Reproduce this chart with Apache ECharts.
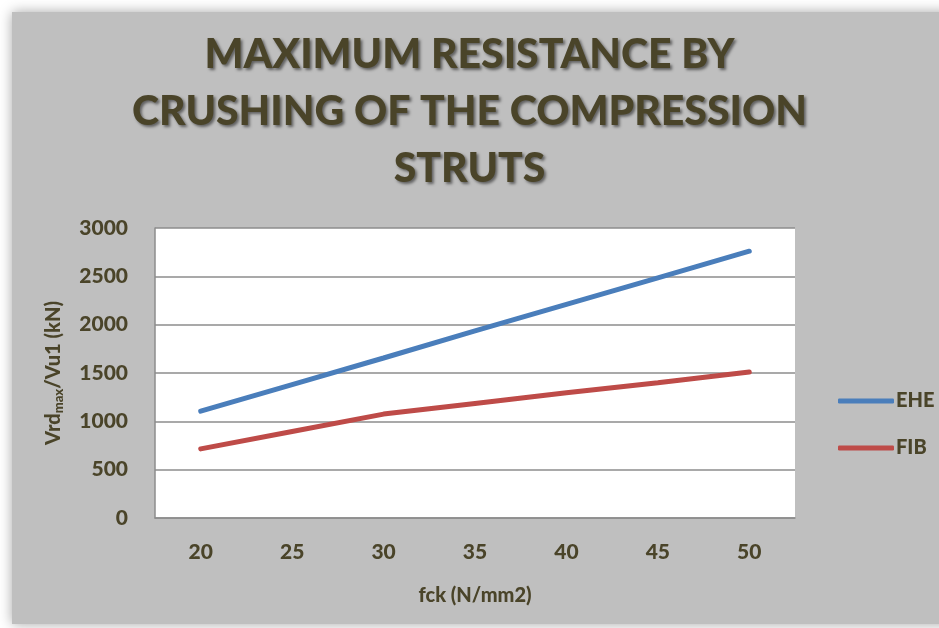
<!DOCTYPE html>
<html>
<head>
<meta charset="utf-8">
<script src="https://cdn.jsdelivr.net/npm/echarts@6/dist/echarts.min.js"></script>
<style>html,body{margin:0;padding:0;background:#fff;}#c{width:939px;height:628px;}</style>
</head>
<body>
<div id="c"></div>
<script>
const categories = ['20', '25', '30', '35', '40', '45', '50'];
const eheValues = [1105, 1380, 1655, 1935, 2210, 2485, 2760];
const fibValues = [715, 895, 1075, 1185, 1295, 1400, 1510];
const yTicks = [0, 500, 1000, 1500, 2000, 2500, 3000];

const txt = '#4a4429';
const font = 'Lato';
const chart = echarts.init(document.getElementById('c'));
chart.setOption({
  backgroundColor: '#ffffff',
  animation: false,
  graphic: [{
    type: 'rect', z: -10, silent: true,
    shape: { x: 12, y: 12, width: 940, height: 612 },
    style: { fill: '#bfbfbf', shadowBlur: 12, shadowColor: 'rgba(0,0,0,0.35)', shadowOffsetX: 0, shadowOffsetY: 0 }
  }],
  title: {
    text: 'MAXIMUM RESISTANCE BY\nCRUSHING OF THE COMPRESSION\nSTRUTS',
    left: 'center', top: 21,
    textStyle: {
      fontFamily: font, fontWeight: 900, fontSize: 41, lineHeight: 57, color: txt,
      textShadowColor: 'rgba(0,0,0,0.5)', textShadowBlur: 3, textShadowOffsetX: 2, textShadowOffsetY: 2
    }
  },
  grid: { left: 155, right: 144, top: 228, bottom: 110, containLabel: false,
          show: true, backgroundColor: '#ffffff', borderWidth: 0 },
  legend: {
    orient: 'vertical', left: 833, top: 386, itemGap: 27,
    itemWidth: 56, itemHeight: 5, icon: 'roundRect',
    textStyle: { fontFamily: font, fontWeight: 900, fontSize: 20, color: txt, lineHeight: 20, padding: [0,0,0,-3] },
    data: ['EHE', 'FIB']
  },
  xAxis: {
    type: 'category', data: categories, boundaryGap: true,
    name: 'fck (N/mm2)', nameLocation: 'middle', nameGap: 68,
    nameTextStyle: { fontFamily: font, fontWeight: 900, fontSize: 20, color: txt },
    axisLine: { show: true, lineStyle: { color: '#8c8c8c', width: 1.5 } },
    axisTick: { show: false },
    axisLabel: { fontFamily: font, fontWeight: 900, fontSize: 21, color: txt, margin: 24 }
  },
  yAxis: {
    type: 'value', min: yTicks[0], max: yTicks[yTicks.length - 1], interval: 500,
    name: '{a|Vrd}{s|max}{a|/Vu1 (kN)}', nameLocation: 'middle', nameGap: 90, nameRotate: 90,
    nameTextStyle: {
      rich: {
        a: { fontFamily: font, fontWeight: 900, fontSize: 20, color: txt },
        s: { fontFamily: font, fontWeight: 900, fontSize: 13, color: txt, padding: [9, 0, 0, 0] }
      }
    },
    axisLine: { show: true, lineStyle: { color: '#8c8c8c', width: 1.5 } },
    axisTick: { show: false },
    splitLine: { show: true, lineStyle: { color: '#8c8c8c', width: 1.5 } },
    axisLabel: { fontFamily: font, fontWeight: 900, fontSize: 21, color: txt, margin: 27,
                 formatter: function (v) { return String(v); } }
  },
  series: [
    { name: 'EHE', type: 'line', data: eheValues, symbol: 'none', smooth: false,
      lineStyle: { color: '#4a7ebb', width: 5, cap: 'round' }, itemStyle: { color: '#4a7ebb' } },
    { name: 'FIB', type: 'line', data: fibValues, symbol: 'none', smooth: false,
      lineStyle: { color: '#be4b48', width: 5, cap: 'round' }, itemStyle: { color: '#be4b48' } }
  ]
});
</script>
</body>
</html>
